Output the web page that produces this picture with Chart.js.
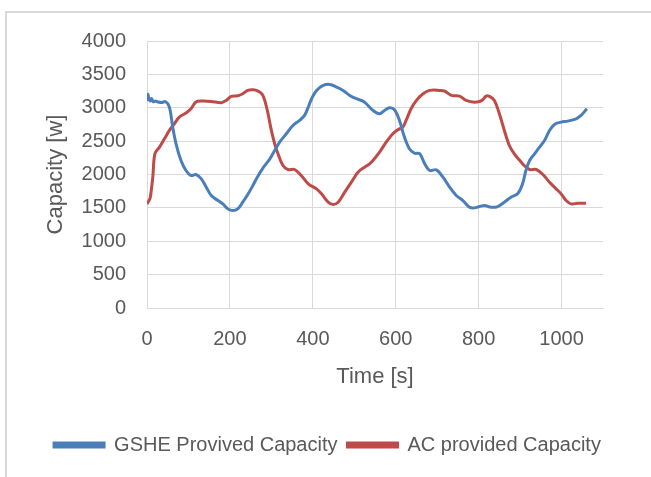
<!DOCTYPE html>
<html>
<head>
<meta charset="utf-8">
<script src="https://cdn.jsdelivr.net/npm/chart.js@4.4.1/dist/chart.umd.min.js"></script>
<style>
  html, body { margin: 0; padding: 0; background: #ffffff; }
  #wrap { position: relative; width: 651px; height: 477px; }
</style>
</head>
<body>
<div id="wrap"><canvas id="c" width="651" height="477"></canvas></div>
<script>
const seriesNames = ["GSHE Provived Capacity", "AC provided Capacity"];
const xTitle = "Time [s]";
const yTitle = "Capacity [w]";

const gsheTime = [0, 2, 5, 8, 11, 15, 20, 25, 35, 45, 54, 62, 70, 82, 94, 106, 118, 131, 143, 155, 171, 183, 195, 207, 219, 231, 243, 255, 266, 280, 296, 308, 320, 336, 352, 368, 380, 389, 397, 409, 425, 441, 457, 473, 489, 505, 521, 529, 545, 561, 573, 585, 597, 609, 621, 633, 645, 658, 670, 682, 698, 714, 730, 746, 762, 778, 790, 802, 814, 830, 846, 862, 878, 894, 906, 914, 923, 935, 947, 959, 971, 983, 999, 1015, 1035, 1047, 1061];
const gsheCapacity = [3100, 3200, 3130, 3100, 3140, 3090, 3100, 3090, 3080, 3090, 3010, 2710, 2460, 2210, 2060, 1985, 2000, 1935, 1810, 1685, 1610, 1560, 1485, 1460, 1485, 1585, 1700, 1830, 1960, 2100, 2230, 2360, 2485, 2610, 2735, 2810, 2885, 3010, 3135, 3260, 3335, 3350, 3310, 3260, 3185, 3135, 3100, 3060, 2960, 2910, 2960, 3000, 2970, 2810, 2560, 2385, 2320, 2310, 2160, 2060, 2070, 1960, 1810, 1685, 1610, 1510, 1500, 1520, 1535, 1510, 1520, 1585, 1660, 1710, 1860, 2060, 2210, 2310, 2410, 2510, 2660, 2750, 2785, 2800, 2835, 2885, 2985];

const acTime = [0, 4, 8, 14, 19, 30, 42, 54, 66, 78, 94, 106, 118, 131, 155, 179, 191, 203, 219, 231, 243, 256, 268, 278, 284, 292, 300, 308, 316, 328, 340, 356, 372, 389, 409, 421, 437, 449, 461, 477, 493, 509, 525, 537, 545, 561, 577, 593, 605, 617, 625, 637, 650, 666, 682, 706, 718, 734, 754, 770, 786, 800, 810, 818, 826, 838, 850, 862, 874, 886, 898, 910, 923, 939, 955, 971, 987, 999, 1011, 1023, 1039, 1059];
const acCapacity = [1560, 1600, 1660, 1960, 2310, 2410, 2535, 2660, 2760, 2860, 2920, 2985, 3085, 3100, 3095, 3075, 3110, 3170, 3180, 3210, 3260, 3270, 3250, 3200, 3110, 2910, 2660, 2460, 2310, 2135, 2075, 2075, 1985, 1860, 1785, 1710, 1585, 1550, 1585, 1735, 1885, 2035, 2110, 2160, 2210, 2335, 2485, 2610, 2670, 2710, 2810, 2985, 3110, 3210, 3260, 3260, 3250, 3185, 3175, 3110, 3085, 3090, 3120, 3175, 3170, 3110, 2910, 2660, 2435, 2310, 2220, 2135, 2075, 2075, 2000, 1885, 1785, 1710, 1610, 1560, 1570, 1570];

const seriesColors = ["#4A7EBB", "#BE4B48"];
const textColor = "#595959";
const gridColor = "#D9D9D9";
const FONT = "'Liberation Sans', Arial, sans-serif";

function pts(xs, ys) { return xs.map((x, i) => ({x: x, y: ys[i]})); }
function plain(v) { return String(v); }

const framePlugin = {
  id: 'frame',
  beforeDraw(chart) {
    const ctx = chart.ctx;
    ctx.save();
    ctx.fillStyle = '#ffffff';
    ctx.fillRect(0, 0, chart.width, chart.height);
    ctx.strokeStyle = gridColor;
    ctx.lineWidth = 2;
    ctx.strokeRect(6, 12, 800, 600);
    ctx.restore();
  },
  afterLayout(chart) {
    if (chart.legend) {
      chart.legend.left += 26;
      chart.legend.right += 26;
    }
  }
};

new Chart(document.getElementById('c'), {
  type: 'line',
  data: {
    datasets: [
      { label: seriesNames[0], data: pts(gsheTime, gsheCapacity), borderColor: seriesColors[0], backgroundColor: seriesColors[0], borderWidth: 3, pointRadius: 0, tension: 0.35, fill: false },
      { label: seriesNames[1], data: pts(acTime, acCapacity), borderColor: seriesColors[1], backgroundColor: seriesColors[1], borderWidth: 3, pointRadius: 0, tension: 0.35, fill: false }
    ]
  },
  options: {
    responsive: false,
    animation: false,
    layout: { padding: { top: 41, left: 0, right: 48, bottom: 12 } },
    plugins: {
      legend: {
        position: 'bottom',
        labels: { boxWidth: 50, boxHeight: 4, padding: 10, color: textColor, font: { family: FONT, size: 20 } }
      },
      tooltip: { enabled: false }
    },
    scales: {
      x: {
        type: 'linear', min: 0, max: 1100,
        ticks: { stepSize: 200, includeBounds: false, padding: 19, color: textColor, font: { family: FONT, size: 20 }, callback: plain },
        grid: { color: gridColor, drawTicks: false },
        border: { color: gridColor },
        title: { display: true, text: xTitle, color: textColor, font: { family: FONT, size: 22 }, padding: { top: 0, bottom: 35 } },
        afterFit(s) { s.height = 117; }
      },
      y: {
        min: 0, max: 4000,
        ticks: { stepSize: 500, padding: 21, color: textColor, font: { family: FONT, size: 20 }, callback: plain },
        grid: { color: gridColor, drawTicks: false },
        border: { color: gridColor },
        title: { display: true, text: yTitle, color: textColor, font: { family: FONT, size: 22 }, padding: { top: 43, bottom: 0 } },
        afterFit(s) { s.width = 147; }
      }
    }
  },
  plugins: [framePlugin]
});
</script>
</body>
</html>
